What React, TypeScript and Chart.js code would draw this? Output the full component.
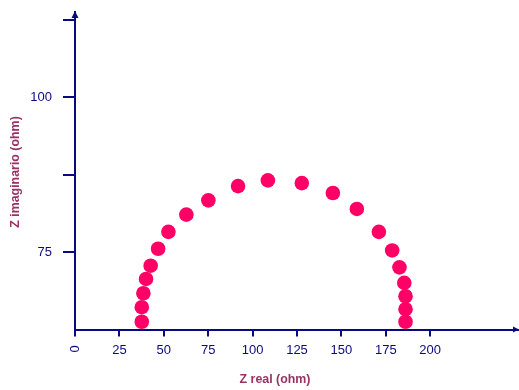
import React, { useEffect, useRef } from "react";
import { Chart, registerables } from "chart.js";

Chart.register(...registerables);

const zReal = [37.6, 37.6, 38.5, 40.0, 42.6, 46.8, 52.6, 62.7, 75.1, 91.8, 108.6, 127.7, 145.2, 158.7, 171.1, 178.6, 182.7, 185.4, 186.1, 186.1, 186.1];
const zImag = [63.75, 66.1, 68.35, 70.66, 72.8, 75.53, 78.26, 81.04, 83.35, 85.65, 86.57, 86.13, 84.53, 81.96, 78.26, 75.26, 72.53, 70.02, 67.87, 65.78, 63.75];
const xTicks = [0, 25, 50, 75, 100, 125, 150, 175, 200];
const yTicks = [75, 87.5, 100, 112.5];
const yLabeled = [75, 100];
const xTitle = "Z real (ohm)";
const yTitle = "Z imaginario (ohm)";

const NAVY = "#0a0a80";
const TITLE = "#993366";
const FONT = "'Liberation Sans', Arial, sans-serif";

const decorations = {
  id: "decorations",
  afterDraw(chart: any) {
    const ctx = chart.ctx;
    const xs = chart.scales.x;
    const ys = chart.scales.y;
    const x0 = xs.getPixelForValue(0);
    const yb = ys.bottom;
    ctx.save();
    ctx.fillStyle = NAVY;
    // y arrow
    ctx.beginPath();
    ctx.moveTo(x0, ys.top - 1);
    ctx.lineTo(x0 - 3.5, ys.top + 6);
    ctx.lineTo(x0 + 3.5, ys.top + 6);
    ctx.closePath();
    ctx.fill();
    // x arrow
    ctx.beginPath();
    ctx.moveTo(xs.right, yb);
    ctx.lineTo(xs.right - 6, yb - 3);
    ctx.lineTo(xs.right - 6, yb + 3);
    ctx.closePath();
    ctx.fill();
    // rotated zero label
    ctx.font = "13px " + FONT;
    ctx.textAlign = "center";
    ctx.textBaseline = "middle";
    ctx.translate(x0, 349);
    ctx.rotate(-Math.PI / 2);
    ctx.fillText("0", 0, 0);
    ctx.restore();

    ctx.save();
    ctx.fillStyle = TITLE;
    ctx.font = "bold 12.4px " + FONT;
    ctx.textAlign = "center";
    ctx.textBaseline = "middle";
    ctx.fillText(xTitle, 275, 380);
    ctx.translate(16, 172);
    ctx.rotate(-Math.PI / 2);
    ctx.fillText(yTitle, 0, 0);
    ctx.restore();
  },
};

export default function App() {
  const ref = useRef<HTMLCanvasElement>(null);
  useEffect(() => {
    if (!ref.current) return;
    const points = zReal.map((x, i) => ({ x, y: zImag[i] }));
    const chart = new Chart(ref.current, {
      type: "scatter",
      data: {
        datasets: [
          {
            data: points,
            pointRadius: 7.3,
            pointHoverRadius: 7.3,
            backgroundColor: "#FF0066",
            borderWidth: 0,
            clip: false as any,
          },
        ],
      },
      options: {
        animation: false,
        responsive: false,
        layout: { autoPadding: false, padding: { top: 12, left: 0, right: 0, bottom: 0 } },
        plugins: { legend: { display: false }, tooltip: { enabled: false } },
        scales: {
          x: {
            type: "linear",
            min: 0,
            max: 250,
            afterBuildTicks: (s: any) => {
              s.ticks = xTicks.map((v) => ({ value: v }));
            },
            afterFit: (s: any) => {
              s.height = 60.5;
              s.paddingLeft = 0;
              s.paddingRight = 0;
            },
            border: { color: NAVY, width: 2 },
            grid: { drawOnChartArea: false, drawTicks: true, tickLength: 7, color: NAVY, lineWidth: 2 },
            ticks: {
              color: NAVY,
              font: { family: FONT, size: 13 },
              padding: 6,
              maxRotation: 0,
              autoSkip: false,
              callback: (v: any) => (v === 0 ? "" : String(v)),
            },
          },
          y: {
            type: "linear",
            min: 62.5,
            max: 113.75,
            afterBuildTicks: (s: any) => {
              s.ticks = yTicks.map((v) => ({ value: v }));
            },
            afterFit: (s: any) => {
              s.width = 75;
              s.paddingTop = 0;
              s.paddingBottom = 0;
            },
            border: { color: NAVY, width: 2 },
            grid: { drawOnChartArea: false, drawTicks: true, tickLength: 12, color: NAVY, lineWidth: 2 },
            ticks: {
              color: NAVY,
              font: { family: FONT, size: 13 },
              padding: 11,
              autoSkip: false,
              callback: (v: any) => (yLabeled.includes(v) ? String(v) : ""),
            },
          },
        },
      },
      plugins: [decorations],
    });
    return () => chart.destroy();
  }, []);
  return (
    <canvas
      ref={ref}
      width={519}
      height={390}
      style={{ position: "fixed", left: 0, top: 0, width: 519, height: 390 }}
    />
  );
}
